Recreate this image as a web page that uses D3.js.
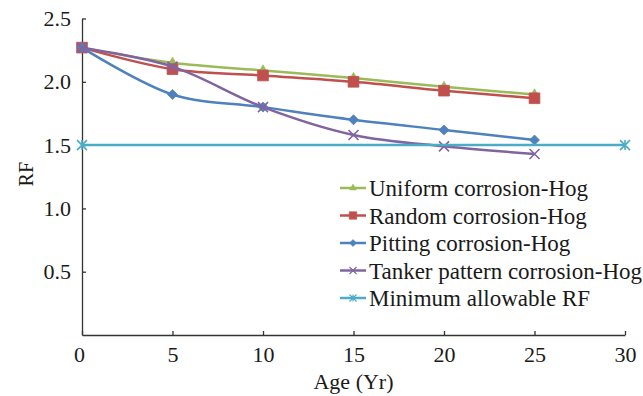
<!DOCTYPE html>
<html>
<head>
<meta charset="utf-8">
<script src="https://cdn.jsdelivr.net/npm/d3@7/dist/d3.min.js"></script>
<style>
  body { margin: 0; background: #fff; }
  svg text { font-family: "Liberation Serif"; fill: #1a1a1a; }
</style>
</head>
<body>
<div id="chart"></div>
<script>
const ages = [0, 5, 10, 15, 20, 25];
const uniformHog = [2.27, 2.15, 2.09, 2.03, 1.96, 1.90];
const randomHog = [2.27, 2.10, 2.05, 2.00, 1.93, 1.87];
const pittingHog = [2.27, 1.90, 1.80, 1.70, 1.62, 1.54];
const tankerHog = [2.27, 2.12, 1.80, 1.58, 1.49, 1.43];
const minAges = [0, 30];
const minRF = [1.5, 1.5];
const xTicks = [0, 5, 10, 15, 20, 25, 30];
const yTicks = [0.5, 1.0, 1.5, 2.0, 2.5];

const style = {
  axis: { color: '#333', width: 1.3 },
  labels: { size: 22 },
  line: { width: 2.5 },
};

const series = [
  { name: 'Uniform corrosion-Hog', x: ages, y: uniformHog, color: '#9bbb59', marker: 'triangle' },
  { name: 'Random corrosion-Hog', x: ages, y: randomHog, color: '#c0504d', marker: 'square' },
  { name: 'Pitting corrosion-Hog', x: ages, y: pittingHog, color: '#4f81bd', marker: 'diamond' },
  { name: 'Tanker pattern corrosion-Hog', x: ages, y: tankerHog, color: '#8064a2', marker: 'cross' },
  { name: 'Minimum allowable RF', x: minAges, y: minRF, color: '#4bacc6', marker: 'star' },
];

const W = 643, H = 396;
const margin = { top: 18.5, right: 18, bottom: 61, left: 82 };
const width = W - margin.left - margin.right;
const height = H - margin.top - margin.bottom;

const svg = d3.select('#chart').append('svg')
  .attr('width', W)
  .attr('height', H)
  .attr('font-family', 'Liberation Serif');

const g = svg.append('g')
  .attr('transform', `translate(${margin.left}, ${margin.top})`);

const x = d3.scaleLinear().domain([0, 30]).range([0, width]);
const y = d3.scaleLinear().domain([0, 2.5]).range([height, 0]);

// axes, ticks point inward
const xAxis = d3.axisBottom(x).tickValues(xTicks).tickSize(-4).tickSizeOuter(0).tickFormat(d3.format('d'));
const yAxis = d3.axisLeft(y).tickValues(yTicks).tickSize(-4).tickSizeOuter(0).tickFormat(d3.format('.1f'));

const gx = g.append('g')
  .attr('class', 'chart__x-axis')
  .attr('transform', `translate(0, ${height})`)
  .call(xAxis)
  .attr('font-family', 'Liberation Serif')
  .attr('font-size', style.labels.size);
gx.selectAll('text')
  .attr('y', 11)
  .attr('dy', '0.71em');
gx.selectAll('.tick').filter((d) => d === 0).select('text').attr('x', -3);

const gy = g.append('g')
  .attr('class', 'chart__y-axis')
  .call(yAxis)
  .attr('font-family', 'Liberation Serif')
  .attr('font-size', style.labels.size);
gy.selectAll('text')
  .attr('x', -11);

svg.selectAll('.domain, .tick line')
  .attr('stroke', style.axis.color)
  .attr('stroke-width', style.axis.width);

// axis titles
g.append('text')
  .attr('x', x(15))
  .attr('y', height + 54)
  .attr('text-anchor', 'middle')
  .attr('font-size', 22)
  .text('Age (Yr)');

g.append('text')
  .attr('transform', `translate(${-56}, ${y(1.27)}) rotate(-90)`)
  .attr('text-anchor', 'middle')
  .attr('dy', '0.35em')
  .attr('font-size', 20)
  .text('RF');

function markerPath(type) {
  if (type === 'triangle') return d3.symbol(d3.symbolTriangle, 40)();
  if (type === 'square') return d3.symbol(d3.symbolSquare, 115)();
  if (type === 'diamond') return 'M0,-5L5,0L0,5L-5,0Z';
  if (type === 'cross') return 'M-5,-5L5,5M-5,5L5,-5';
  return 'M-5,-5L5,5M-5,5L5,-5M0,-5L0,5';
}

function drawMarker(sel, s) {
  const open = s.marker === 'cross' || s.marker === 'star';
  sel.attr('d', markerPath(s.marker))
    .attr('fill', open ? 'none' : s.color)
    .attr('stroke', s.color)
    .attr('stroke-width', open ? 1.6 : 0.8);
}

const line = d3.line()
  .x((d) => x(d[0]))
  .y((d) => y(d[1]))
  .curve(d3.curveCatmullRom.alpha(0.5));

series.forEach((s) => {
  const pts = s.x.map((v, i) => [v, s.y[i]]);
  g.append('path')
    .attr('class', 'chart__line')
    .attr('d', line(pts))
    .attr('fill', 'none')
    .attr('stroke', s.color)
    .attr('stroke-width', style.line.width);
  g.selectAll(null).data(pts).enter()
    .append('path')
    .attr('transform', (d) => `translate(${x(d[0])}, ${y(d[1])})`)
    .call(drawMarker, s);
});

// legend
const legend = g.append('g')
  .attr('transform', `translate(${340 - margin.left}, ${188 - margin.top})`);
series.forEach((s, i) => {
  const row = legend.append('g').attr('transform', `translate(0, ${i * 27.5})`);
  row.append('line')
    .attr('x1', 0).attr('x2', 26)
    .attr('y1', 0).attr('y2', 0)
    .attr('stroke', s.color)
    .attr('stroke-width', style.line.width);
  row.append('path')
    .attr('transform', 'translate(13, 0) scale(0.7)')
    .call(drawMarker, s);
  row.append('text')
    .attr('x', 29)
    .attr('dy', '0.35em')
    .attr('font-size', 23)
    .text(s.name);
});
</script>
</body>
</html>
